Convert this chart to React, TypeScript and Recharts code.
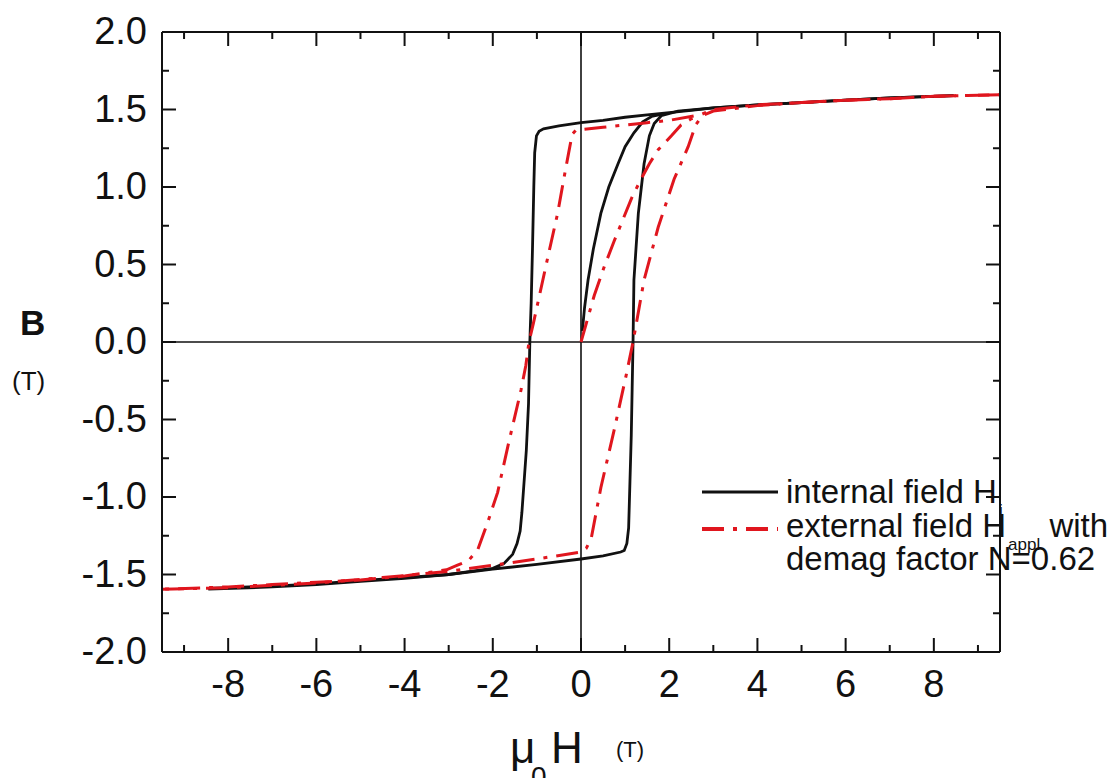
import React from 'react';
import { LineChart, Line, XAxis, YAxis, ReferenceLine } from 'recharts';

// ---- axis ticks ----
const xMinorTicks = [-9, -8, -7, -6, -5, -4, -3, -2, -1, 0, 1, 2, 3, 4, 5, 6, 7, 8, 9];
const xMajorTicks = [-8, -6, -4, -2, 0, 2, 4, 6, 8];
const yMinorTicks = [-1.75, -1.5, -1.25, -1, -0.75, -0.5, -0.25, 0, 0.25, 0.5, 0.75, 1, 1.25, 1.5, 1.75];
const yMajorTicks = [-2, -1.5, -1, -0.5, 0, 0.5, 1, 1.5, 2];

// ---- internal field H_i (black, solid) : [mu0H (T), B (T)] ----
const internalVirgin = [
  [0.03, 0.07], [0.08, 0.22], [0.16, 0.4], [0.28, 0.6], [0.45, 0.83], [0.63, 1.0],
  [0.84, 1.15], [1.0, 1.26], [1.2, 1.35], [1.4, 1.42], [1.6, 1.455], [1.85, 1.47],
];
const internalDescending = [
  [8.45, 1.59], [7, 1.575], [6, 1.56], [5, 1.545], [4, 1.53], [3, 1.51], [2.5, 1.495],
  [2, 1.48], [1.5, 1.465], [1, 1.45], [0.5, 1.43], [0, 1.415], [-0.5, 1.395], [-0.85, 1.375],
  [-0.95, 1.36], [-1.01, 1.33], [-1.05, 1.22], [-1.07, 1.0], [-1.1, 0.6], [-1.13, 0.25],
  [-1.16, 0], [-1.19, -0.4], [-1.24, -0.7], [-1.29, -0.9], [-1.34, -1.1], [-1.38, -1.22],
  [-1.45, -1.3], [-1.55, -1.37], [-1.75, -1.43], [-2.0, -1.46], [-2.5, -1.48], [-3, -1.5],
  [-4, -1.52], [-5, -1.54], [-6, -1.56], [-7, -1.575], [-8.45, -1.59],
];
const internalAscending = [
  [-8.45, -1.595], [-7, -1.58], [-6, -1.565], [-5, -1.545], [-4, -1.525], [-3, -1.5],
  [-2, -1.465], [-1, -1.435], [0, -1.4], [0.5, -1.38], [0.9, -1.355], [0.98, -1.345],
  [1.04, -1.3], [1.08, -1.2], [1.11, -0.9], [1.14, -0.6], [1.16, -0.3], [1.18, 0],
  [1.2, 0.4], [1.3, 0.83], [1.43, 1.15], [1.55, 1.33], [1.66, 1.41], [1.82, 1.46],
  [2.2, 1.49], [3, 1.51], [4, 1.53], [5, 1.545], [6, 1.56], [7, 1.575], [8.45, 1.59],
];

// ---- external field H_appl, N = 0.62 (red, dash-dot) ----
const externalVirgin = [
  [0, 0], [0.15, 0.15], [0.3, 0.3], [0.52, 0.48], [0.75, 0.65], [0.95, 0.79], [1.15, 0.93],
  [1.36, 1.05], [1.55, 1.15], [1.75, 1.24], [2.05, 1.33], [2.27, 1.4], [2.5, 1.44], [2.7, 1.46],
];
const externalDescending = [
  [9.5, 1.595], [8, 1.585], [7, 1.57], [6, 1.56], [5, 1.545], [4, 1.53], [3, 1.5],
  [2.7, 1.465], [2, 1.43], [1.5, 1.415], [1, 1.4], [0.5, 1.385], [0, 1.37], [-0.12, 1.365],
  [-0.2, 1.34], [-0.28, 1.22], [-0.34, 1.13], [-0.53, 0.83], [-0.75, 0.55], [-0.95, 0.29],
  [-1.08, 0.12], [-1.18, 0], [-1.25, -0.15], [-1.36, -0.31], [-1.5, -0.48], [-1.64, -0.65],
  [-1.89, -0.97], [-2.1, -1.15], [-2.34, -1.34], [-2.55, -1.41], [-2.8, -1.44], [-3.05, -1.47],
  [-4, -1.51], [-5, -1.535], [-6, -1.55], [-7, -1.565], [-8, -1.58], [-9.5, -1.595],
];
const externalAscending = [
  [-9.5, -1.595], [-8, -1.585], [-6, -1.555], [-4.5, -1.52], [-3, -1.48], [-2, -1.44],
  [-1, -1.4], [0, -1.355], [0.12, -1.33], [0.23, -1.27], [0.45, -0.94], [0.75, -0.57],
  [1.02, -0.22], [1.18, 0], [1.43, 0.4], [1.75, 0.74], [2.11, 1.05], [2.43, 1.26],
  [2.6, 1.4], [2.75, 1.46], [3, 1.49], [4, 1.525], [5, 1.545], [6, 1.56], [7, 1.57],
  [8, 1.585], [9.5, 1.595],
];

const toPoints = (arr: number[][]) => arr.map(([h, b]) => ({ h, b }));

const FONT = '"Liberation Sans", Arial, sans-serif';
const BLACK = '#111';
const RED = '#e0161e';
const DASH = '22 9 4 9';

const CHART_W = 1120;
const CHART_H = 778;
const LEFT_W = 162;
const RIGHT_W = 120;
const TOP_H = 32;
const BOTTOM_H = 126;
const X_DOMAIN: [number, number] = [-9.5, 9.5];
const Y_DOMAIN: [number, number] = [-2, 2];
const PLOT_W = CHART_W - LEFT_W - RIGHT_W;
const PLOT_H = CHART_H - TOP_H - BOTTOM_H;

// same linear mapping as the chart's axes (used only for the inward tick marks)
const sx = (v: number) => LEFT_W + ((v - X_DOMAIN[0]) / (X_DOMAIN[1] - X_DOMAIN[0])) * PLOT_W;
const sy = (v: number) => TOP_H + ((Y_DOMAIN[1] - v) / (Y_DOMAIN[1] - Y_DOMAIN[0])) * PLOT_H;

const MAJOR = 14;
const MINOR = 7;

const isIn = (list: number[], v: number) => list.some((t) => Math.abs(t - v) < 1e-9);

const BottomLabel = (props: any) => {
  const { x, y, payload } = props;
  return (
    <text x={x} y={y + 45} textAnchor="middle" fontSize={38} fontFamily={FONT} fill={BLACK}>
      {String(payload.value)}
    </text>
  );
};

const LeftLabel = (props: any) => {
  const { x, y, payload } = props;
  return (
    <text x={x - 15} y={y + 12} textAnchor="end" fontSize={38} fontFamily={FONT} fill={BLACK}>
      {Number(payload.value).toFixed(1)}
    </text>
  );
};

const axisLine = { stroke: BLACK, strokeWidth: 2 };

function TickMarks() {
  const bottom = sy(Y_DOMAIN[0]);
  const top = sy(Y_DOMAIN[1]);
  const left = sx(X_DOMAIN[0]);
  const right = sx(X_DOMAIN[1]);
  return (
    <g stroke={BLACK} strokeWidth={2}>
      {xMinorTicks.map((v) => {
        const len = isIn(xMajorTicks, v) ? MAJOR : MINOR;
        const px = sx(v);
        return (
          <g key={`x${v}`}>
            <line x1={px} x2={px} y1={bottom} y2={bottom - len} />
            <line x1={px} x2={px} y1={top} y2={top + len} />
          </g>
        );
      })}
      {yMinorTicks.map((v) => {
        const len = isIn(yMajorTicks, v) ? MAJOR : MINOR;
        const py = sy(v);
        return (
          <g key={`y${v}`}>
            <line x1={left} x2={left + len} y1={py} y2={py} />
            <line x1={right} x2={right - len} y1={py} y2={py} />
          </g>
        );
      })}
    </g>
  );
}

export default function App() {
  return (
    <div style={{ position: 'absolute', left: 0, top: 0, width: CHART_W, height: CHART_H, background: '#fff', overflow: 'hidden' }}>
      <LineChart width={CHART_W} height={CHART_H} margin={{ top: 0, right: 0, bottom: 0, left: 0 }}>
        <XAxis xAxisId="bottom" dataKey="h" type="number" domain={X_DOMAIN} allowDataOverflow ticks={xMajorTicks}
          interval={0} tickLine={false} tickSize={0} tickMargin={0} height={BOTTOM_H} axisLine={axisLine} tick={BottomLabel} />
        <XAxis xAxisId="top" orientation="top" dataKey="h" type="number" domain={X_DOMAIN} allowDataOverflow ticks={xMajorTicks}
          interval={0} tickLine={false} tickSize={0} tickMargin={0} height={TOP_H} axisLine={axisLine} tick={false} />
        <YAxis yAxisId="left" type="number" domain={Y_DOMAIN} allowDataOverflow ticks={yMajorTicks}
          interval={0} tickLine={false} tickSize={0} tickMargin={0} width={LEFT_W} axisLine={axisLine} tick={LeftLabel} />
        <YAxis yAxisId="right" orientation="right" type="number" domain={Y_DOMAIN} allowDataOverflow ticks={yMajorTicks}
          interval={0} tickLine={false} tickSize={0} tickMargin={0} width={RIGHT_W} axisLine={axisLine} tick={false} />

        <ReferenceLine xAxisId="bottom" yAxisId="left" x={0} stroke={BLACK} strokeWidth={1.6} />
        <ReferenceLine xAxisId="bottom" yAxisId="left" y={0} stroke={BLACK} strokeWidth={1.6} />

        <Line xAxisId="bottom" yAxisId="left" data={toPoints(internalVirgin)} dataKey="b" type="linear" stroke={BLACK} strokeWidth={2.8} dot={false} activeDot={false} isAnimationActive={false} />
        <Line xAxisId="bottom" yAxisId="left" data={toPoints(internalDescending)} dataKey="b" type="linear" stroke={BLACK} strokeWidth={2.8} dot={false} activeDot={false} isAnimationActive={false} />
        <Line xAxisId="bottom" yAxisId="left" data={toPoints(internalAscending)} dataKey="b" type="linear" stroke={BLACK} strokeWidth={2.8} dot={false} activeDot={false} isAnimationActive={false} />

        <Line xAxisId="bottom" yAxisId="left" data={toPoints(externalVirgin)} dataKey="b" type="linear" stroke={RED} strokeWidth={3} strokeDasharray={DASH} dot={false} activeDot={false} isAnimationActive={false} />
        <Line xAxisId="bottom" yAxisId="left" data={toPoints(externalDescending)} dataKey="b" type="linear" stroke={RED} strokeWidth={3} strokeDasharray={DASH} dot={false} activeDot={false} isAnimationActive={false} />
        <Line xAxisId="bottom" yAxisId="left" data={toPoints(externalAscending)} dataKey="b" type="linear" stroke={RED} strokeWidth={3} strokeDasharray={DASH} dot={false} activeDot={false} isAnimationActive={false} />
      </LineChart>

      <svg width={CHART_W} height={CHART_H} style={{ position: 'absolute', left: 0, top: 0, pointerEvents: 'none' }} fontFamily={FONT}>
        <TickMarks />
        {/* y axis title */}
        <text x={20} y={335} fontSize={35} fontWeight="bold" fill={BLACK}>B</text>
        <text x={12} y={390} fontSize={26} fill={BLACK}>(T)</text>
        {/* x axis title */}
        <text x={510} y={763} fontSize={44} fill={BLACK}>μ</text>
        <text x={531} y={786} fontSize={28} fill={BLACK}>0</text>
        <text x={551} y={763} fontSize={44} fill={BLACK}>H</text>
        <text x={616} y={757} fontSize={22} fill={BLACK}>(T)</text>
        {/* legend */}
        <line x1={702} x2={778} y1={492} y2={492} stroke={BLACK} strokeWidth={3} />
        <text x={786} y={503} fontSize={33} fill={BLACK}>
          internal field H
          <tspan fontSize={17} dx={2} dy={13}>i</tspan>
        </text>
        <line x1={702} x2={778} y1={529} y2={529} stroke={RED} strokeWidth={4} strokeDasharray={DASH} />
        <text x={786} y={537} fontSize={33} fill={BLACK}>
          external field H
          <tspan fontSize={17} dx={2} dy={13}>appl</tspan>
          <tspan dy={-13}> with</tspan>
        </text>
        <text x={786} y={570} fontSize={33} fill={BLACK}>demag factor N=0.62</text>
      </svg>
    </div>
  );
}
